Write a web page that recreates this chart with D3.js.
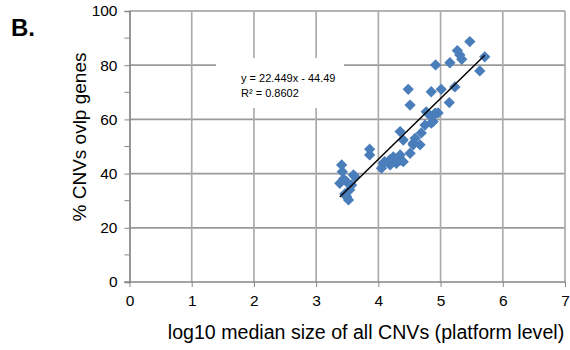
<!DOCTYPE html>
<html>
<head>
<meta charset="utf-8">
<script src="https://cdn.jsdelivr.net/npm/d3@7"></script>
<style>
  html, body { margin: 0; padding: 0; background: #fff; }
  svg { display: block; font-family: "Liberation Sans", Arial, sans-serif; }
</style>
</head>
<body>
<svg id="chart" width="570" height="350"></svg>
<script>
// log10 median CNV size per platform vs. share of CNVs overlapping genes
const logSize = [3.41, 3.42, 3.38, 3.49, 3.44, 3.57, 3.54, 3.60, 3.62, 3.49, 3.52, 3.46, 3.86, 3.86,
  4.05, 4.10, 4.19, 4.24, 4.29, 4.35, 4.40, 4.51, 4.56, 4.08, 4.18, 4.27, 4.35,
  4.35, 4.40, 4.59, 4.69, 4.67, 4.56,
  4.48, 4.51, 4.75, 4.77, 4.85, 4.88, 4.91, 4.92, 4.96, 4.85,
  4.85, 5.01, 5.14, 5.23, 4.92, 5.15, 5.27, 5.31, 5.34, 5.47, 5.63, 5.71];
const pctGenes = [43.2, 40.7, 36.4, 37.0, 38.0, 35.8, 34.0, 39.5, 38.9, 31.5, 30.3, 32.5, 49.0, 46.9,
  42.0, 44.4, 43.2, 46.2, 43.8, 46.9, 44.4, 47.5, 50.6, 43.8, 45.0, 45.0, 45.0,
  55.5, 52.4, 53.0, 55.0, 50.6, 51.2,
  71.1, 65.3, 57.9, 62.8, 58.6, 59.2, 62.2, 62.2, 62.4, 61.0,
  70.2, 71.1, 66.2, 72.0, 80.1, 80.9, 85.4, 83.8, 82.2, 88.7, 77.9, 83.1];

const xTicks = [0, 1, 2, 3, 4, 5, 6, 7];
const yTicks = [0, 20, 40, 60, 80, 100];
const yMinorTicks = [10, 30, 50, 70, 90];

// linear trendline reported for the series
const slope = 22.449;
const intercept = -44.49;
const rSquared = "0.8602";

const svg = d3.select("#chart");
const x = d3.scaleLinear().domain([0, 7]).range([129.5, 565]);
const y = d3.scaleLinear().domain([0, 100]).range([282, 11]);

// panel letter
svg.append("text").attr("x", 11).attr("y", 36)
  .attr("font-size", 24).attr("font-weight", "bold").attr("fill", "#000").text("B.");

// gridlines
const grid = svg.append("g");
grid.selectAll(".hg").data(yTicks.filter(d => d > 0)).join("line")
  .attr("x1", x(0)).attr("x2", x(7))
  .attr("y1", d => y(d)).attr("y2", d => y(d))
  .attr("stroke", "#9a9a9a").attr("stroke-width", 1.7);
grid.selectAll(".vg").data(xTicks.filter(d => d > 0)).join("line")
  .attr("x1", d => x(d)).attr("x2", d => x(d))
  .attr("y1", y(0)).attr("y2", y(100))
  .attr("stroke", "#acacac").attr("stroke-width", 1.7);

// axes
const yAxis = d3.axisLeft(y).tickValues(yTicks).tickSize(5).tickPadding(7);
const gy = svg.append("g").attr("transform", `translate(${x(0)},0)`).call(yAxis);
gy.selectAll(".tick text").attr("font-size", 15.5).attr("fill", "#000")
  .attr("font-family", "Liberation Sans, Arial, sans-serif");
gy.append("g").selectAll("line").data(yMinorTicks).join("line")
  .attr("x1", -5).attr("x2", 0).attr("y1", d => y(d)).attr("y2", d => y(d))
  .attr("stroke", "#868686").attr("stroke-width", 1);

const xAxis = d3.axisBottom(x).tickValues(xTicks).tickFormat(d3.format("d"))
  .tickSize(5).tickPadding(8);
const gx = svg.append("g").attr("transform", `translate(0,${y(0)})`).call(xAxis);
gx.selectAll(".tick text").attr("font-size", 15.5).attr("fill", "#000")
  .attr("font-family", "Liberation Sans, Arial, sans-serif");

[gx, gy].forEach(g => {
  g.select(".domain").attr("stroke", "#868686").attr("stroke-width", 1.7);
  g.selectAll(".tick line").attr("stroke", "#868686");
});
gx.select(".domain").attr("d", `M${x(0) - 5},0H${x(7)}`);

// axis titles
svg.append("text")
  .attr("transform", `translate(86,${137}) rotate(-90)`)
  .attr("text-anchor", "middle").attr("font-size", 19).attr("fill", "#000")
  .text("% CNVs ovlp genes");
svg.append("text")
  .attr("x", 366).attr("y", 339)
  .attr("text-anchor", "middle").attr("font-size", 19.6).attr("fill", "#000")
  .text("log10 median size of all CNVs (platform level)");

// points
const pts = logSize.map((v, i) => [v, pctGenes[i]]);
const diamond = d3.symbol(d3.symbolSquare, 64)();
svg.append("g").selectAll("path").data(pts).join("path")
  .attr("d", diamond)
  .attr("transform", d => `translate(${x(d[0])},${y(d[1])}) rotate(45)`)
  .attr("fill", "#4a7ebb");

// trendline over the data range
const [xmin, xmax] = d3.extent(logSize);
svg.append("line")
  .attr("x1", x(xmin)).attr("y1", y(slope * xmin + intercept))
  .attr("x2", x(xmax)).attr("y2", y(slope * xmax + intercept))
  .attr("stroke", "#000").attr("stroke-width", 1.5);

// equation label
const lab = svg.append("g");
lab.append("rect").attr("x", 216).attr("y", 58).attr("width", 128).attr("height", 50).attr("fill", "#fff");
lab.append("text").attr("x", 241).attr("y", 82).attr("font-size", 11).attr("fill", "#000")
  .text(`y = ${slope}x - ${Math.abs(intercept)}`);
lab.append("text").attr("x", 241).attr("y", 97).attr("font-size", 11).attr("fill", "#000")
  .text(`R² = ${rSquared}`);
</script>
</body>
</html>
